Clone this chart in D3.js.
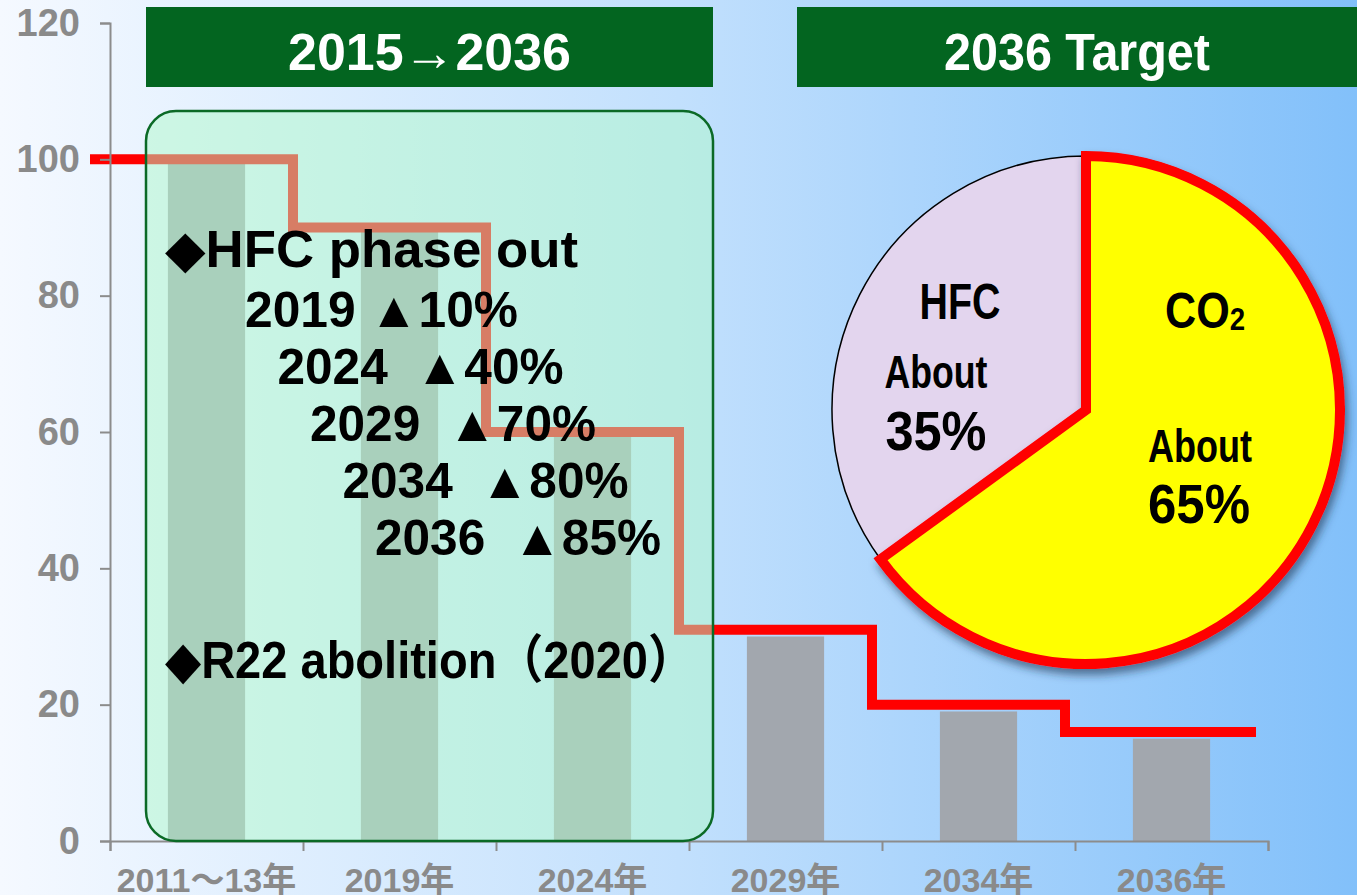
<!DOCTYPE html>
<html>
<head>
<meta charset="utf-8">
<script src="https://cdn.jsdelivr.net/npm/d3@7"></script>
<style>
  html, body { margin: 0; padding: 0; overflow: hidden; }
  svg { display: block; }
</style>
</head>
<body>
<div id="chart"></div>
<script>
// categories along the bottom and the two series
var categories = ["2011～13年", "2019年", "2024年", "2029年", "2034年", "2036年"];
var barValues = [100, 90, 60, 30, 19, 15];
var stepValues = [100, 90, 60, 31, 20, 16];
var yTicks = [0, 20, 40, 60, 80, 100, 120];

// pie on the right
var pieNames = ["CO2", "HFC"];
var pieValues = [65, 35];

// headers and notes
var headers = ["2015→2036", "2036 Target"];
var phaseYears = ["2019", "2024", "2029", "2034", "2036"];
var phaseCuts = ["10%", "40%", "70%", "80%", "85%"];

var width = 1357;
var height = 895;

var svg = d3.select("#chart")
    .append("svg")
    .attr("width", width)
    .attr("height", height);

var defs = svg.append("defs");

var bg = defs.append("linearGradient")
    .attr("id", "bg")
    .attr("x1", 0).attr("x2", 1).attr("y1", 0).attr("y2", 0);
bg.append("stop").attr("offset", "0%").attr("stop-color", "#f5f9ff");
bg.append("stop").attr("offset", "50%").attr("stop-color", "#c2e0fd");
bg.append("stop").attr("offset", "100%").attr("stop-color", "#82c0fa");

var shadow = defs.append("filter")
    .attr("id", "shadow")
    .attr("x", "-20%").attr("y", "-20%")
    .attr("width", "140%").attr("height", "140%");
shadow.append("feDropShadow")
    .attr("dx", 3).attr("dy", 6)
    .attr("stdDeviation", 4)
    .attr("flood-color", "#1c3550")
    .attr("flood-opacity", 0.6);

svg.append("rect")
    .attr("width", width)
    .attr("height", height)
    .attr("fill", "url(#bg)");

// scales
var y = d3.scaleLinear().domain([0, 120]).range([841, 23]);
var x = d3.scaleBand().domain(categories).range([110, 1268])
    .paddingInner(0.6).paddingOuter(0.3);
var xEdge = d3.scaleLinear().domain([0, categories.length]).range([110, 1268]);

// bars
svg.append("g")
    .selectAll("rect")
    .data(barValues)
    .join("rect")
    .attr("x", function(d, i) { return x(categories[i]); })
    .attr("y", function(d) { return y(d); })
    .attr("width", x.bandwidth())
    .attr("height", function(d) { return y(0) - y(d); })
    .attr("fill", "#a2a7ae");

// step line, steps a little before each band edge
var stepPts = stepValues.map(function(v, i) {
    var px = i === 0 ? xEdge(0) - 20 : xEdge(i) - 10;
    return [px, y(v)];
});
stepPts.push([xEdge(categories.length) - 12, y(stepValues[stepValues.length - 1])]);

svg.append("path")
    .datum(stepPts)
    .attr("d", d3.line().curve(d3.curveStepAfter))
    .attr("fill", "none")
    .attr("stroke", "#ff0000")
    .attr("stroke-width", 10)
    .attr("stroke-linejoin", "miter");

// y axis
var yAxis = svg.append("g")
    .attr("transform", "translate(110,0)")
    .call(d3.axisLeft(y).tickValues(yTicks).tickSize(10).tickPadding(20));
yAxis.select(".domain").attr("stroke", "#8c8c8c").attr("stroke-width", 2);
yAxis.selectAll(".tick line").attr("stroke", "#8c8c8c").attr("stroke-width", 2);
yAxis.selectAll(".tick text")
    .attr("fill", "#8a8a8a")
    .style("font-family", "'Liberation Sans', Arial, sans-serif")
    .style("font-weight", "bold")
    .style("font-size", "38px");

// x axis: ticks at band edges, labels at centres
var xAxis = svg.append("g")
    .attr("transform", "translate(0,841)")
    .call(d3.axisBottom(xEdge).ticks(categories.length).tickFormat("").tickSize(10).tickSizeOuter(10));
xAxis.select(".domain").attr("stroke", "#8c8c8c").attr("stroke-width", 2);
xAxis.selectAll(".tick line").attr("stroke", "#8c8c8c").attr("stroke-width", 2);

svg.append("g")
    .selectAll("text")
    .data(categories)
    .join("text")
    .attr("x", function(d) { return x(d) + x.bandwidth() / 2; })
    .attr("y", 892)
    .attr("text-anchor", "middle")
    .attr("fill", "#8a8a8a")
    .style("font-family", "'Liberation Sans', 'Noto Sans CJK JP', sans-serif")
    .style("font-weight", "bold")
    .style("font-size", "34px")
    .text(function(d) { return d; });

// translucent green panel
svg.append("rect")
    .attr("x", 146).attr("y", 111)
    .attr("width", 567).attr("height", 730)
    .attr("rx", 30).attr("ry", 30)
    .attr("fill", "rgb(176,250,202)")
    .attr("fill-opacity", 0.5)
    .attr("stroke", "#0b6a26")
    .attr("stroke-width", 2.5);

// headers
var headerBoxes = [[146, 567], [797, 560]];
headers.forEach(function(h, i) {
    var b = headerBoxes[i];
    svg.append("rect")
        .attr("x", b[0]).attr("y", 7)
        .attr("width", b[1]).attr("height", 80)
        .attr("fill", "#036520");
    svg.append("text")
        .attr("x", b[0] + b[1] / 2)
        .attr("y", 70)
        .attr("text-anchor", "middle")
        .attr("fill", "#ffffff")
        .attr("textLength", i === 0 ? 283 : 266)
        .attr("lengthAdjust", "spacingAndGlyphs")
        .style("font-family", "'Liberation Sans', Arial, sans-serif")
        .style("font-weight", "bold")
        .style("font-size", "51px")
        .text(h);
});

// notes in the panel
var noteFont = "'Liberation Sans', 'DejaVu Sans', 'Noto Sans CJK JP', sans-serif";
svg.append("text")
    .attr("x", 165).attr("y", 267)
    .attr("textLength", 413)
    .attr("lengthAdjust", "spacingAndGlyphs")
    .style("font-family", noteFont)
    .style("font-weight", "bold")
    .style("font-size", "52px")
    .text("◆HFC phase out");

svg.append("g")
    .selectAll("text")
    .data(phaseYears)
    .join("text")
    .attr("x", function(d, i) { return 245 + i * 32.5; })
    .attr("y", function(d, i) { return 327 + i * 57; })
    .attr("textLength", function(d, i) { return i === 0 ? 273 : 286; })
    .attr("lengthAdjust", "spacingAndGlyphs")
    .style("white-space", "pre")
    .style("font-family", noteFont)
    .style("font-weight", "bold")
    .style("font-size", "50px")
    .text(function(d, i) { return d + (i === 0 ? " " : "  ") + "▲" + phaseCuts[i]; });

svg.append("text")
    .attr("x", 165).attr("y", 678)
    .attr("textLength", 530)
    .attr("lengthAdjust", "spacingAndGlyphs")
    .style("font-family", noteFont)
    .style("font-weight", "bold")
    .style("font-size", "52px")
    .text("◆R22 abolition（2020）");

// pie
var cx = 1086, cy = 410, r = 254;
var arcs = d3.pie().sort(null)(pieValues);
var arc = d3.arc().innerRadius(0).outerRadius(r);
var pieG = svg.append("g").attr("transform", "translate(" + cx + "," + cy + ")");

// HFC slice first, then CO2 on top with red outline and shadow
pieG.append("path")
    .attr("d", arc(arcs[1]))
    .attr("fill", "#e3d5ee")
    .attr("stroke", "#000000")
    .attr("stroke-width", 1.5);

pieG.append("path")
    .attr("d", arc(arcs[0]))
    .attr("fill", "#ffff00")
    .attr("stroke", "#ff0000")
    .attr("stroke-width", 10)
    .attr("stroke-linejoin", "miter")
    .attr("filter", "url(#shadow)");

var pieText = [
    { t: pieNames[1], x: 960, y: 319, size: 50, len: 81 },
    { t: "About", x: 936, y: 388, size: 46, len: 103 },
    { t: pieValues[1] + "%", x: 936, y: 450, size: 56, len: 101 },
    { t: "About", x: 1200, y: 462, size: 46, len: 104 },
    { t: pieValues[0] + "%", x: 1199, y: 523, size: 56, len: 102 }
];
svg.append("g")
    .selectAll("text")
    .data(pieText)
    .join("text")
    .attr("x", function(d) { return d.x; })
    .attr("y", function(d) { return d.y; })
    .attr("text-anchor", "middle")
    .attr("textLength", function(d) { return d.len; })
    .attr("lengthAdjust", "spacingAndGlyphs")
    .style("font-family", "'Liberation Sans', Arial, sans-serif")
    .style("font-weight", "bold")
    .style("font-size", function(d) { return d.size + "px"; })
    .text(function(d) { return d.t; });

// CO2 with subscript
var co2 = svg.append("text")
    .attr("x", 1165).attr("y", 328)
    .attr("textLength", 80)
    .attr("lengthAdjust", "spacingAndGlyphs")
    .style("font-family", "'Liberation Sans', Arial, sans-serif")
    .style("font-weight", "bold")
    .style("font-size", "50px");
co2.append("tspan")
    .text(pieNames[0].slice(0, 2));
co2.append("tspan")
    .attr("dy", 2)
    .style("font-size", "32px")
    .text(pieNames[0].slice(2));
</script>
</body>
</html>
